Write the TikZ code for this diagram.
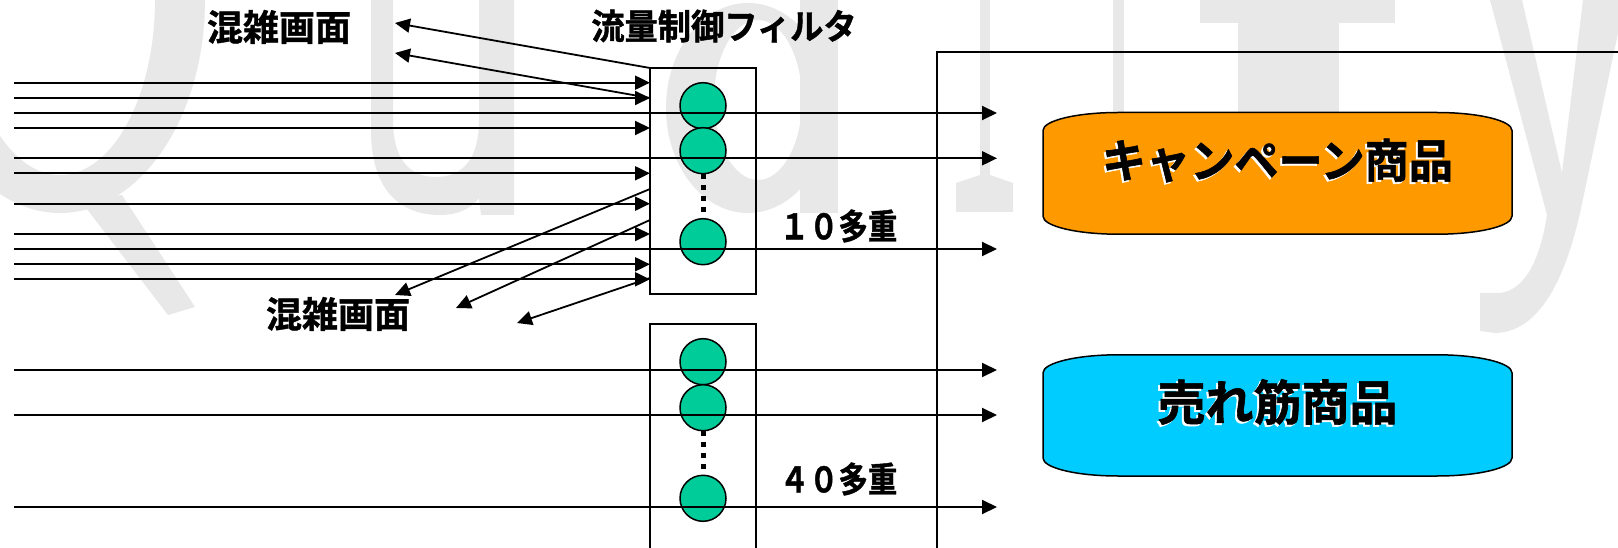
\documentclass[tikz,border=0pt]{standalone}
\usepackage{graphicx}
\usepackage{fontspec}
\newfontfamily\jp{Noto Sans CJK JP}[BoldFont={Noto Sans CJK JP Bold},BoldFeatures={FakeBold=1.2}]
\usetikzlibrary{arrows.meta}
\definecolor{wmgray}{RGB}{232,232,232}
\definecolor{circgreen}{RGB}{0,204,153}
\definecolor{campor}{RGB}{255,153,0}
\definecolor{sellblue}{RGB}{0,204,255}
\begin{document}
\begin{tikzpicture}[x=1pt,y=-1pt,
  arr/.style={line width=2pt,-{Triangle[length=15pt,width=14pt]}},
  diag/.style={line width=1.8pt,-{Triangle[length=15pt,width=14pt]}},
  boxline/.style={line width=1.6pt},
  fbox/.style={draw,line width=1.6pt,minimum width=106pt,minimum height=226pt,inner sep=0pt,outer sep=0pt},
  fcirc/.style={circle,draw,line width=1.5pt,fill=circgreen,minimum size=46pt,inner sep=0pt,outer sep=0pt},
  dotline/.style={line width=5pt,dash pattern=on 5.5pt off 5.5pt},
  lbl/.style={inner sep=0pt,outer sep=0pt,font=\jp\bfseries\fontsize{36}{40}\selectfont},
  lblmid/.style={inner sep=0pt,outer sep=0pt,font=\jp\bfseries\fontsize{35}{40}\selectfont},
  lblbig/.style={inner sep=0pt,outer sep=0pt,font=\jp\bfseries\fontsize{46}{50}\selectfont},
  lblhuge/.style={inner sep=0pt,outer sep=0pt,font=\jp\bfseries\fontsize{48}{52}\selectfont},
  wm/.style={fill=wmgray},
  ellbox/.style={draw=black,line width=1.5pt}]

\useasboundingbox (0,0) rectangle (1618,548);
\fill[white] (0,0) rectangle (1618,548);

% ---- watermark "Quality" (faint background) ----
\fill[wm,even odd rule] (60,0) ellipse [x radius=145, y radius=213] (60,0) ellipse [x radius=95, y radius=175];
\fill[wm] (80,200) -- (122,195) -- (195,307) -- (168,315) -- cycle;
\fill[wm,even odd rule] (371,0) -- (371,130) .. controls (371,190) and (400,215) .. (440,215) .. controls (458,215) and (472,208) .. (479,198) -- (481,215) -- (514,215) -- (514,0) -- cycle
  (393,0) -- (393,120) .. controls (393,160) and (410,177) .. (436,177) .. controls (462,177) and (479,160) .. (479,120) -- (479,0) -- cycle;
\fill[wm,even odd rule] (748,108) ellipse [x radius=82, y radius=105] (758,100) ellipse [x radius=44, y radius=80];
\fill[wm] (800,0) rectangle (838,213);
\fill[wm] (980,0) rectangle (990,176);
\fill[wm] (956,183) -- (980,175) -- (990,175) -- (1013,183) -- (1013,212) -- (956,212) -- cycle;
\fill[wm] (1113,0) rectangle (1124,150);
\fill[wm] (1200,0) rectangle (1395,23);
\fill[wm] (1238,0) rectangle (1339,213);
\fill[wm] (1490,0) -- (1522,0) -- (1562,173) -- (1583,0) -- (1625,0) -- (1580,213) .. controls (1568,265) and (1545,332) .. (1495,333) -- (1480,331) -- (1480,293) -- (1500,293) .. controls (1525,290) and (1540,260) .. (1547,215) -- cycle;

% ---- filter boxes and circles ----
\node[fbox] (box1) at (703,181) {};
\node[fcirc] (c1) at (703,105.7) {};
\node[fcirc] (c2) at (703,150.7) {};
\node[fcirc] (c3) at (703,241.7) {};
\draw[dotline] (c2.south) -- (c3.north);

\coordinate (b2bl) at (650,548);
\coordinate (b2tl) at (650,324);
\coordinate (b2tr) at (756,324);
\coordinate (b2br) at (756,548);
\draw[boxline] (b2bl) -- (b2tl) -- (b2tr) -- (b2br);
\node[fcirc] (c4) at (703,361.7) {};
\node[fcirc] (c5) at (703,407.7) {};
\node[fcirc] (c6) at (703,498.3) {};
\draw[dotline] (c5.south) -- (c6.north);

% ---- frame line ----
\coordinate (fb) at (937,548);
\coordinate (ft) at (937,52);
\coordinate (fr) at (1618,52);
\draw[line width=1.5pt] (fb) -- (ft) -- (fr);

% ---- incoming arrows stopped at the filter ----
\foreach \yy [count=\i] in {82.7,98,128,173.3,203.7,234,264.3,279.3} {
  \coordinate (in\i) at (14,\yy);
  \draw[arr] (in\i) -- (in\i -| box1.west);
}

% ---- through arrows ----
\foreach \yy [count=\i] in {113,158.3,249,370,415,507} {
  \coordinate (t\i) at (14,\yy);
  \coordinate (e\i) at (997,\yy);
  \draw[arr] (t\i) -- (e\i);
}

% ---- rejected (diagonal) arrows ----
\coordinate (u1) at (395,23);
\coordinate (u2) at (395,53);
\draw[diag] (box1.north west) -- (u1);
\draw[diag] (in2 -| box1.west) -- (u2);
\coordinate (s1) at (650,189);
\coordinate (s2) at (650,220);
\coordinate (s3) at (650,278);
\coordinate (d1) at (395,295);
\coordinate (d2) at (456,308);
\coordinate (d3) at (517,323);
\draw[diag] (s1) -- (d1);
\draw[diag] (s2) -- (d2);
\draw[diag] (s3) -- (d3);

% ---- labels ----
\node[lbl] (cong1) at (279,27) {混雑画面};
\node[lblmid] (filt) at (724,26) {\scalebox{0.95}[1]{流量制御フィルタ}};
\node[lbl] (cong2) at (338,314) {混雑画面};
\node[lblmid] (ten) at (838.5,226) {\scalebox{0.84}[1]{１０多重}};
\node[lblmid] (forty) at (838.5,479) {\scalebox{0.84}[1]{４０多重}};

% ---- product boxes ----
\fill[campor] (1043,130.5) .. controls (1043,120.56) and (1076.6,112.5) .. (1118,112.5) -- (1437,112.5) .. controls (1478.4,112.5) and (1512,120.56) .. (1512,130.5) -- (1512,216.2) .. controls (1512,226.14) and (1478.4,234.2) .. (1437,234.2) -- (1118,234.2) .. controls (1076.6,234.2) and (1043,226.14) .. (1043,216.2) -- cycle;
\draw[ellbox] (1043,130.5) .. controls (1043,120.56) and (1076.6,112.5) .. (1118,112.5) -- (1437,112.5) .. controls (1478.4,112.5) and (1512,120.56) .. (1512,130.5) -- (1512,216.2) .. controls (1512,226.14) and (1478.4,234.2) .. (1437,234.2) -- (1118,234.2) .. controls (1076.6,234.2) and (1043,226.14) .. (1043,216.2) -- cycle;
\node[lblbig,text=white] (campsh) at (1275.5,162.5) {\scalebox{0.96}[1]{キャンペーン商品}};
\node[lblbig] (camp) at (1277.5,160.5) {\scalebox{0.96}[1]{キャンペーン商品}};

\fill[sellblue] (1043,372.8) .. controls (1043,362.86) and (1076.6,354.8) .. (1118,354.8) -- (1437,354.8) .. controls (1478.4,354.8) and (1512,362.86) .. (1512,372.8) -- (1512,458) .. controls (1512,467.94) and (1478.4,476) .. (1437,476) -- (1118,476) .. controls (1076.6,476) and (1043,467.94) .. (1043,458) -- cycle;
\draw[ellbox] (1043,372.8) .. controls (1043,362.86) and (1076.6,354.8) .. (1118,354.8) -- (1437,354.8) .. controls (1478.4,354.8) and (1512,362.86) .. (1512,372.8) -- (1512,458) .. controls (1512,467.94) and (1478.4,476) .. (1437,476) -- (1118,476) .. controls (1076.6,476) and (1043,467.94) .. (1043,458) -- cycle;
\node[lblhuge,text=white] (sellsh) at (1275.5,404) {売れ筋商品};
\node[lblhuge] (sell) at (1277.5,402) {売れ筋商品};

\end{tikzpicture}
\end{document}
